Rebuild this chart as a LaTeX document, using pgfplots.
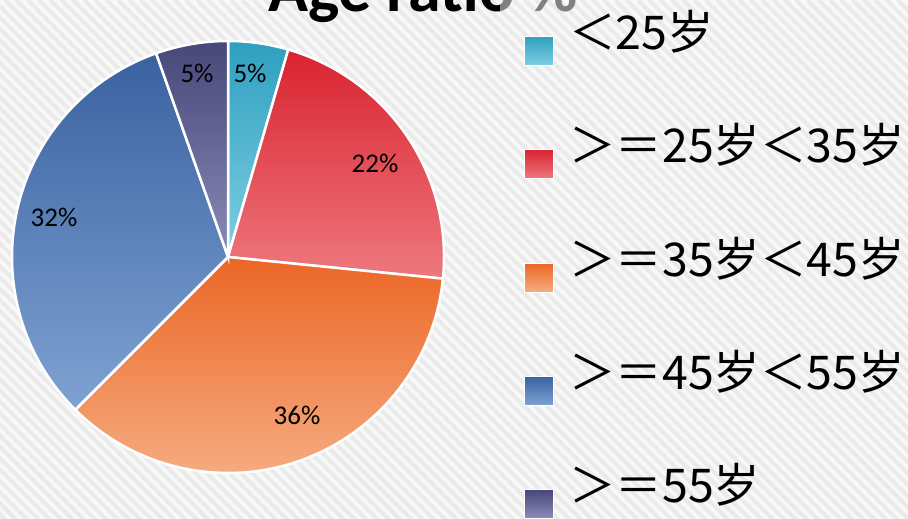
\documentclass[border=0pt]{standalone}
\usepackage{pgfplots}
\pgfplotsset{compat=1.18}
\usepackage{fontspec}
\setmainfont{Carlito}
\newfontfamily\cjk{Noto Sans CJK SC}
\definecolor{bgbase}{HTML}{F8F8F8}
\definecolor{bgstripe}{HTML}{EAEAEA}
\definecolor{tealT}{HTML}{2E9FBF}\definecolor{tealB}{HTML}{7FCFE3}
\definecolor{redT}{HTML}{D92330}\definecolor{redB}{HTML}{EE787E}
\definecolor{oraT}{HTML}{EB6625}\definecolor{oraB}{HTML}{F6AE84}
\definecolor{bluT}{HTML}{3A62A0}\definecolor{bluB}{HTML}{7FA2D2}
\definecolor{purT}{HTML}{474778}\definecolor{purB}{HTML}{8B8BB9}
% shares of the pie (percent)
\def\va{4.5}\def\vb{22.1}\def\vc{35.9}\def\vd{32.1}\def\ve{5.4}
\begin{document}
\begin{tikzpicture}[x=1bp,y=1bp]
\useasboundingbox (0,0) rectangle (908,519);
\clip (0,0) rectangle (908,519);
% background
\fill[bgbase] (0,0) rectangle (908,519);
\foreach \i in {-560,-548.7,...,920}{
  \draw[bgstripe,line width=4bp] (\i,519) -- ++(540,-540);
}
% angles
\pgfmathsetmacro\aA{90}
\pgfmathsetmacro\aB{\aA-3.6*\va}
\pgfmathsetmacro\aC{\aB-3.6*\vb}
\pgfmathsetmacro\aD{\aC-3.6*\vc}
\pgfmathsetmacro\aE{\aD-3.6*\vd}
\pgfmathsetmacro\aF{\aE-3.6*\ve}
\begin{axis}[at={(0,0)},anchor=south west,scale only axis,width=908bp,height=519bp,
  xmin=0,xmax=908,ymin=0,ymax=519,hide axis,clip=false]
\shadedraw[top color=tealT,bottom color=tealB,draw=white,line width=2.5bp]
  (axis cs:228,262) -- ++(\aA:216bp) arc[start angle=\aA,end angle=\aB,radius=216bp] -- cycle;
\shadedraw[top color=redT,bottom color=redB,draw=white,line width=2.5bp]
  (axis cs:228,262) -- ++(\aB:216bp) arc[start angle=\aB,end angle=\aC,radius=216bp] -- cycle;
\shadedraw[top color=oraT,bottom color=oraB,draw=white,line width=2.5bp]
  (axis cs:228,262) -- ++(\aC:216bp) arc[start angle=\aC,end angle=\aD,radius=216bp] -- cycle;
\shadedraw[top color=bluT,bottom color=bluB,draw=white,line width=2.5bp]
  (axis cs:228,262) -- ++(\aD:216bp) arc[start angle=\aD,end angle=\aE,radius=216bp] -- cycle;
\shadedraw[top color=purT,bottom color=purB,draw=white,line width=2.5bp]
  (axis cs:228,262) -- ++(\aE:216bp) arc[start angle=\aE,end angle=\aF,radius=216bp] -- cycle;
\node[font=\fontsize{27bp}{27bp}\selectfont,inner sep=0] at (axis cs:250,446) {5\%};
\node[font=\fontsize{27bp}{27bp}\selectfont,inner sep=0] at (axis cs:375,356) {22\%};
\node[font=\fontsize{27bp}{27bp}\selectfont,inner sep=0] at (axis cs:297,104) {36\%};
\node[font=\fontsize{27bp}{27bp}\selectfont,inner sep=0] at (axis cs:54,302) {32\%};
\node[font=\fontsize{27bp}{27bp}\selectfont,inner sep=0] at (axis cs:197,446) {5\%};
\end{axis}
% title
\begin{scope}
\clip (0,440) rectangle (500,519);
\node[anchor=base west,inner sep=0,font=\bfseries\fontsize{66bp}{66bp}\selectfont,text=black] at (268,507) {Age ratio \%};
\end{scope}
\begin{scope}
\clip (500,440) rectangle (908,519);
\node[anchor=base west,inner sep=0,font=\bfseries\fontsize{66bp}{66bp}\selectfont,text=black!50] at (268,507) {Age ratio \%};
\end{scope}
% legend
\foreach \c/\t/\b/\lab in {51/tealT/tealB/＜25岁,164/redT/redB/＞＝25岁＜35岁,278/oraT/oraB/＞＝35岁＜45岁,391/bluT/bluB/＞＝45岁＜55岁,504/purT/purB/＞＝55岁}{
  \shadedraw[top color=\t,bottom color=\b,draw=white,line width=1bp] (524,519-\c-14.5) rectangle (553,519-\c+14.5);
  \node[anchor=base west,inner sep=0,font=\cjk\fontsize{46.5bp}{46.5bp}\selectfont] at (569,519-\c+1) {\lab};
}
\end{tikzpicture}
\end{document}
